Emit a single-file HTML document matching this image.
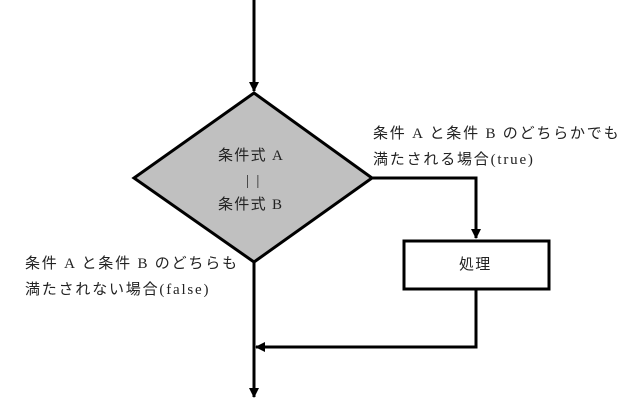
<!DOCTYPE html>
<html><head><meta charset="utf-8"><style>
html,body{margin:0;padding:0;background:#fff;}
body{width:637px;height:405px;position:relative;overflow:hidden;}
.t{position:absolute;font-family:"Liberation Serif","Noto Sans CJK JP",serif;font-size:15px;letter-spacing:1.8px;line-height:26px;color:#222;white-space:nowrap;}
</style></head><body>
<svg width="637" height="405" style="position:absolute;left:0;top:0">
<defs><marker id="a" markerWidth="10" markerHeight="10" refX="9" refY="5" orient="auto" markerUnits="userSpaceOnUse"><path d="M0,0 L10,5 L0,10 z" fill="#000"/></marker></defs>
<g stroke="#000" stroke-width="3" fill="none">
<line x1="254" y1="0" x2="254" y2="91" marker-end="url(#a)"/>
<polygon points="254,93 372,178 254,262 134,178" fill="#c0c0c0"/>
<polyline points="372,178 476,178 476,238" marker-end="url(#a)"/>
<rect x="404" y="241" width="145" height="48" fill="#fff"/>
<polyline points="476,289 476,347 256,347" marker-end="url(#a)"/>
<line x1="254" y1="262" x2="254" y2="397" marker-end="url(#a)"/>
</g>
</svg>
<div class="t" style="left:218px;top:143px;letter-spacing:1.3px;">条件式 A</div>
<div class="t" style="left:246px;top:168px;">| |</div>
<div class="t" style="left:218px;top:192px;letter-spacing:1.3px;">条件式 B</div>
<div class="t" style="left:459px;top:252px;letter-spacing:1.3px;">処理</div>
<div class="t" style="left:373px;top:121px;">条件 A と条件 B のどちらかでも<br>満たされる場合(true)</div>
<div class="t" style="left:25px;top:251px;">条件 A と条件 B のどちらも<br>満たされない場合(false)</div>
</body></html>
